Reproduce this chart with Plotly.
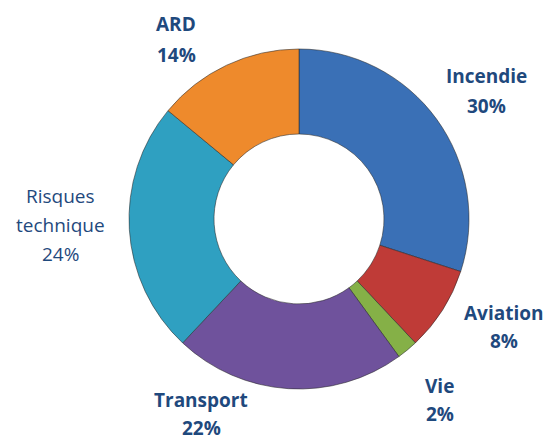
import math
import plotly.graph_objects as go

# ---- data ----
categories = ["Incendie", "Aviation", "Vie", "Transport", "Risques technique", "ARD"]
values = [30, 8, 2, 22, 24, 14]

# ---- style ----
colors = ["#3A70B6", "#BF3B37", "#85B047", "#6F529C", "#2FA0C1", "#EE8A2C"]
bold = [True, True, True, True, False, True]
text_color = "#1F497D"
font_family = "Open Sans"
font_size = 19
line_gap = [30, 28, 28, 28, 29, 31]
# label placement: radial distance (px) and angular nudge (deg) relative to slice mid-angle
label_radius = [227, 232, 229, 218, 239, 217]
label_nudge = [1.6, -4.7, 1.7, 23.0, 2.2, -9.2]

W, H = 547, 441
cx, cy, R = 299, 219, 170  # pie centre / radius in px

dom_x = [(cx - R) / W, (cx + R) / W]
dom_y = [(H - (cy + R)) / H, (H - (cy - R)) / H]

fig = go.Figure()
fig.add_trace(go.Pie(
    labels=categories,
    values=values,
    hole=0.5,
    sort=False,
    direction="clockwise",
    rotation=0,
    marker=dict(colors=colors, line=dict(color="rgba(40,40,40,0.55)", width=1)),
    textinfo="none",
    hoverinfo="label+percent",
    showlegend=False,
    domain=dict(x=dom_x, y=dom_y),
))

total = sum(values)
cum = 0
annotations = []
for i, (cat, v) in enumerate(zip(categories, values)):
    mid = (cum + v / 2) / total * 360
    cum += v
    ang = math.radians(mid + label_nudge[i])
    px = cx + label_radius[i] * math.sin(ang)
    py = cy - label_radius[i] * math.cos(ang)
    pct = f"{round(v / total * 100)}%"
    lines = cat.split(" ") + [pct]
    n = len(lines)
    for j, ln in enumerate(lines):
        ly = py + (j - (n - 1) / 2) * line_gap[i]
        txt = f"<b>{ln}</b>" if bold[i] else ln
        annotations.append(dict(
            x=px / W, y=1 - ly / H, xref="paper", yref="paper",
            text=txt, showarrow=False, xanchor="center", yanchor="middle",
            font=dict(family=font_family, size=font_size, color=text_color),
        ))

fig.update_layout(
    width=W, height=H,
    margin=dict(l=0, r=0, t=0, b=0),
    paper_bgcolor="white",
    plot_bgcolor="white",
    annotations=annotations,
)

fig.write_html(
    "out.html",
    config={"displayModeBar": False},
    post_script="document.body.style.margin='0';document.body.style.overflow='hidden';",
)
